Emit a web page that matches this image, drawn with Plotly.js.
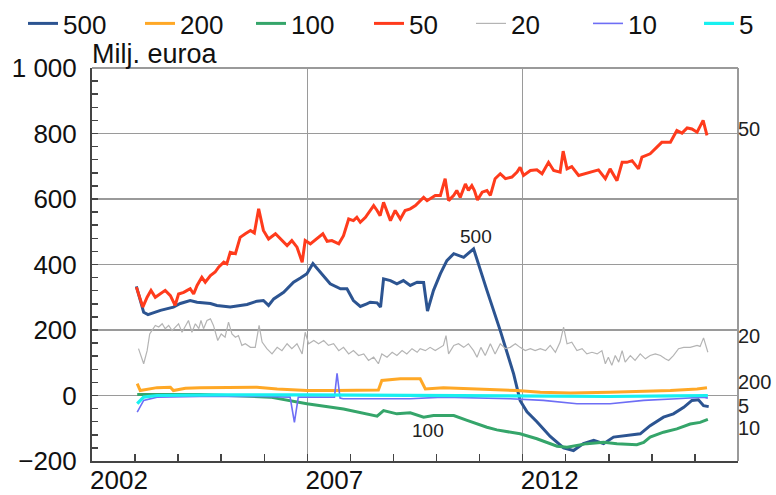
<!DOCTYPE html>
<html>
<head>
<meta charset="utf-8">
<script src="https://cdn.plot.ly/plotly-3.0.1.min.js"></script>
<style>html,body{margin:0;padding:0;background:#fff;}#chart{width:776px;height:495px;}</style>
</head>
<body>
<div id="chart"></div>
<script>
// ---- data (decimal years, million euro) ----
const seriesNames = ['500', '200', '100', '50', '20', '10', '5'];
const xTickLabels = ['2002', '2007', '2012'];
const xTickYears = [2002, 2007, 2012];

const x500 = [2003.03,2003.20,2003.30,2003.59,2003.89,2004.05,2004.28,2004.44,2004.75,2004.90,2005.21,2005.44,2005.60,2005.83,2005.98,2006.10,2006.22,2006.45,2006.68,2006.84,2006.99,2007.13,2007.30,2007.53,2007.77,2007.92,2008.07,2008.23,2008.38,2008.46,2008.62,2008.70,2008.77,2008.93,2009.08,2009.23,2009.39,2009.55,2009.70,2009.79,2009.93,2010.09,2010.24,2010.40,2010.63,2010.86,2011.17,2011.48,2011.79,2011.94,2012.10,2012.33,2012.64,2012.95,2013.18,2013.41,2013.65,2013.88,2014.11,2014.42,2014.73,2014.96,2015.27,2015.50,2015.74,2015.93,2016.08,2016.20,2016.32];
const y500 = [333,254,247,260,270,281,290,285,281,275,270,275,278,288,290,275,295,315,346,359,372,403,377,341,326,326,290,272,280,285,283,270,356,351,341,351,336,346,345,258,321,372,412,433,422,448,321,198,66,-15,-50,-80,-125,-160,-168,-147,-137,-147,-127,-122,-117,-92,-66,-56,-36,-15,-13,-31,-34];

const x200 = [2003.05,2003.12,2003.51,2003.82,2003.89,2004.17,2004.51,2005.83,2006.30,2006.99,2007.61,2008.65,2008.73,2009.16,2009.62,2009.74,2010.16,2011.09,2011.87,2012.41,2013.11,2014.03,2015.43,2016.05,2016.28];
const y200 = [36,15,24,25,15,22,24,25,20,15,15,17,46,51,51,20,24,20,15,10,8,10,15,20,24];

const x100 = [2003.05,2004.51,2006.14,2006.53,2006.99,2007.84,2008.62,2008.77,2009.08,2009.39,2009.70,2009.93,2010.40,2010.71,2011.17,2011.40,2011.94,2012.33,2012.80,2013.03,2013.49,2013.88,2014.19,2014.65,2014.81,2014.96,2015.27,2015.58,2015.89,2016.12,2016.30];
const y100 = [3,3,-5,-15,-25,-41,-63,-46,-56,-53,-66,-61,-61,-76,-97,-105,-117,-132,-155,-158,-147,-143,-147,-150,-143,-127,-112,-102,-87,-82,-73];

const x50 = [2003.03,2003.18,2003.28,2003.37,2003.47,2003.59,2003.70,2003.82,2003.93,2004.01,2004.13,2004.21,2004.28,2004.36,2004.44,2004.55,2004.63,2004.75,2004.86,2004.94,2005.06,2005.13,2005.21,2005.33,2005.44,2005.56,2005.68,2005.77,2005.87,2005.98,2006.10,2006.26,2006.41,2006.53,2006.64,2006.76,2006.88,2006.95,2007.07,2007.22,2007.36,2007.46,2007.57,2007.73,2007.84,2007.96,2008.07,2008.15,2008.23,2008.35,2008.46,2008.54,2008.62,2008.69,2008.77,2008.85,2008.93,2009.04,2009.16,2009.27,2009.39,2009.51,2009.62,2009.70,2009.78,2009.89,2009.97,2010.09,2010.20,2010.28,2010.40,2010.47,2010.55,2010.67,2010.74,2010.82,2010.88,2010.95,2011.06,2011.17,2011.25,2011.36,2011.48,2011.60,2011.75,2011.87,2011.94,2012.02,2012.18,2012.33,2012.45,2012.60,2012.72,2012.87,2012.94,2013.03,2013.14,2013.30,2013.45,2013.61,2013.76,2013.92,2014.03,2014.19,2014.31,2014.42,2014.54,2014.69,2014.77,2014.96,2015.12,2015.23,2015.43,2015.58,2015.70,2015.82,2015.93,2016.05,2016.19,2016.28];
const y50 = [331,270,300,321,300,310,321,305,275,310,315,321,326,310,336,361,346,366,377,392,407,402,437,433,483,494,504,496,570,504,478,494,473,458,473,453,407,473,463,478,494,471,473,463,488,539,534,544,529,544,565,580,565,549,590,560,534,565,539,565,570,580,595,605,595,605,611,611,662,595,611,626,605,646,626,641,626,597,621,626,611,662,677,662,667,682,697,672,687,689,677,712,687,682,746,692,699,672,677,682,689,662,692,656,712,712,717,692,728,738,760,773,773,809,801,817,814,804,840,794];

const x20 = [2003.08,2003.20,2003.28,2003.34,2003.39,2003.47,2003.55,2003.63,2003.70,2003.78,2003.86,2003.93,2004.01,2004.09,2004.17,2004.24,2004.32,2004.40,2004.48,2004.53,2004.59,2004.67,2004.75,2004.82,2004.92,2005.00,2005.09,2005.17,2005.25,2005.33,2005.40,2005.48,2005.56,2005.68,2005.79,2005.88,2005.95,2006.06,2006.18,2006.30,2006.41,2006.53,2006.64,2006.76,2006.88,2006.95,2007.03,2007.15,2007.26,2007.38,2007.49,2007.61,2007.73,2007.84,2007.96,2008.07,2008.19,2008.31,2008.42,2008.54,2008.65,2008.73,2008.85,2008.97,2009.08,2009.20,2009.31,2009.43,2009.55,2009.62,2009.74,2009.85,2009.97,2010.09,2010.16,2010.22,2010.28,2010.40,2010.51,2010.63,2010.74,2010.86,2010.94,2011.03,2011.13,2011.25,2011.36,2011.48,2011.60,2011.71,2011.83,2011.94,2012.06,2012.18,2012.29,2012.41,2012.53,2012.64,2012.76,2012.87,2012.95,2013.03,2013.14,2013.26,2013.38,2013.49,2013.61,2013.73,2013.84,2013.92,2013.99,2014.07,2014.15,2014.23,2014.31,2014.38,2014.50,2014.61,2014.73,2014.85,2014.96,2015.08,2015.20,2015.31,2015.39,2015.50,2015.62,2015.74,2015.89,2016.05,2016.12,2016.20,2016.30];
const y20 = [143,97,137,188,198,214,209,219,204,214,198,209,219,193,214,229,193,219,204,229,204,229,234,214,168,188,178,224,188,178,183,153,158,147,147,214,163,143,127,147,137,158,143,158,127,193,158,168,158,168,153,158,137,147,127,137,122,127,107,117,97,127,117,132,122,137,127,143,132,143,137,147,137,147,153,183,127,153,158,147,158,137,117,147,122,158,127,158,143,147,158,147,137,143,137,143,137,153,132,163,209,158,163,137,143,127,132,127,137,97,117,92,122,102,137,102,122,107,127,112,122,127,122,112,107,122,143,147,147,153,150,176,132];

const x10 = [2003.05,2003.20,2003.51,2004.50,2006.00,2006.60,2006.70,2006.79,2007.50,2007.63,2007.69,2007.76,2007.83,2008.50,2009.39,2010.16,2011.71,2012.48,2013.26,2014.03,2014.81,2015.58,2016.20,2016.30];
const y10 = [-51,-15,-5,-3,-3,-5,-82,-5,-5,-5,68,-8,-10,-10,-10,-5,-10,-15,-25,-25,-15,-10,-5,-8];

const x5 = [2003.05,2003.20,2003.51,2005.00,2007.00,2009.00,2011.00,2012.50,2014.00,2015.50,2016.30];
const y5 = [-25,-5,0,2,2,0,0,-3,-3,-1,0];

// ---- styling ----
const colors = {'500':'#2c5491','200':'#ffa826','100':'#35a56a','50':'#ff3b1c','20':'#b4b4b4','10':'#6e6ef5','5':'#18f0f0'};
const widths = {'500':3,'200':3,'100':3,'50':3,'20':1.2,'10':1.6,'5':3.2};
const xs = {'500':x500,'200':x200,'100':x100,'50':x50,'20':x20,'10':x10,'5':x5};
const ys = {'500':y500,'200':y200,'100':y100,'50':y50,'20':y20,'10':y10,'5':y5};
// left edge (px) of each legend entry
const legendLeft = [23, 140, 251, 369, 471, 588, 699];

const sans = 'Liberation Sans, Arial, sans-serif';

const traces = seriesNames.map((n, i) => ({
  type: 'scatter', mode: 'lines', name: n,
  x: xs[n], y: ys[n],
  line: {color: colors[n], width: widths[n]},
  legend: i === 0 ? 'legend' : 'legend' + (i + 1),
  hoverinfo: 'skip'
}));

const rightLabels = [
  {t:'50', y:815}, {t:'20', y:183}, {t:'200', y:40}, {t:'5', y:-31}, {t:'10', y:-98}
];

const annotations = rightLabels.map(r => ({
  xref:'paper', x:1, xanchor:'left', xshift:-2, yref:'y', y:r.y, yanchor:'middle',
  text:r.t, showarrow:false, font:{family:sans, size:20, color:'#222'}
}));
annotations.push({xref:'x', x:2010.92, yref:'y', y:486, text:'500', showarrow:false, font:{family:sans, size:19, color:'#222'}});
annotations.push({xref:'x', x:2009.81, yref:'y', y:-107, text:'100', showarrow:false, font:{family:sans, size:19, color:'#222'}});
annotations.push({xref:'paper', x:0, xanchor:'left', xshift:-2, yref:'paper', y:1, yanchor:'bottom', yshift:-3,
  text:'Milj. euroa', showarrow:false, font:{family:sans, size:27, color:'#111'}});

const layout = {
  width: 776, height: 495,
  margin: {l:92, r:38, t:68, b:34, pad:0, autoexpand:false},
  paper_bgcolor:'#fff', plot_bgcolor:'#fff',
  separators: ', ',
  showlegend: true,
  xaxis: {
    type:'linear', range:[2002, 2017], fixedrange:true,
    tickmode:'array', tickvals:xTickYears, ticktext:xTickLabels,
    ticks:'inside', ticklen:7, tickcolor:'#444', tickwidth:1.5,
    ticklabelshift:27, ticklabelstandoff:-5,
    showgrid:true, gridcolor:'#9a9a9a', gridwidth:1.5,
    showline:true, linecolor:'#444', linewidth:2, zeroline:false,
    tickfont:{family:sans, size:26, color:'#111'},
    minor:{dtick:1, tick0:2002, ticks:'inside', ticklen:7, tickcolor:'#444', tickwidth:1.5, showgrid:false}
  },
  yaxis: {
    range:[-200, 1000], fixedrange:true, dtick:200, tick0:0, tickformat:',d',
    ticks:'inside', ticklen:6, tickcolor:'#444', tickwidth:1.5,
    showgrid:true, gridcolor:'#9a9a9a', gridwidth:1.5,
    zeroline:true, zerolinecolor:'#9a9a9a', zerolinewidth:1.5,
    showline:true, linecolor:'#444', linewidth:2,
    ticklabelstandoff:8,
    tickfont:{family:sans, size:26, color:'#111'},
    minor:{dtick:40, ticks:'inside', ticklen:6, tickcolor:'#444', tickwidth:1.5, showgrid:false}
  },
  shapes: [
    {type:'line', xref:'paper', yref:'paper', x0:0, x1:1, y0:1, y1:1, line:{color:'#9a9a9a', width:2}},
    {type:'line', xref:'paper', yref:'paper', x0:1, x1:1, y0:0, y1:1, line:{color:'#9a9a9a', width:2}}
  ],
  annotations: annotations
};

seriesNames.forEach((n, i) => {
  const key = i === 0 ? 'legend' : 'legend' + (i + 1);
  layout[key] = {
    orientation:'h', xref:'container', yref:'container',
    x: legendLeft[i] / 776, y: 1, xanchor:'left', yanchor:'top',
    font:{family:sans, size:26, color:'#111'}, itemwidth:30,
    bgcolor:'rgba(0,0,0,0)', borderwidth:0
  };
});

Plotly.newPlot('chart', traces, layout, {staticPlot:true, displayModeBar:false});
</script>
</body>
</html>
